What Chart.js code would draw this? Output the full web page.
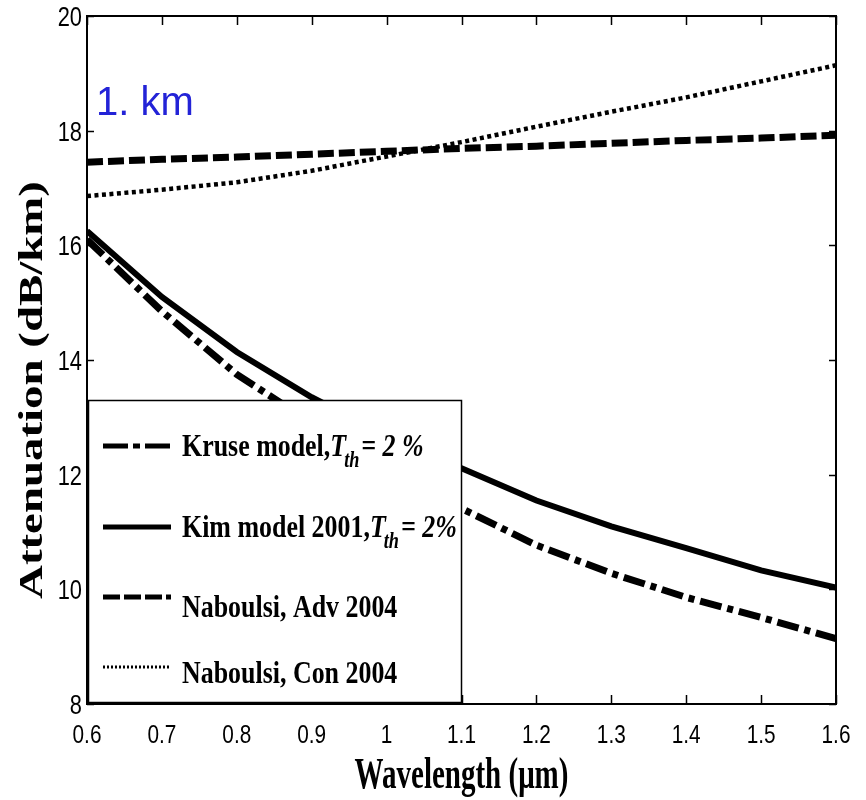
<!DOCTYPE html>
<html>
<head>
<meta charset="utf-8">
<script src="https://cdn.jsdelivr.net/npm/chart.js@4"></script>
<style>
  html, body { margin: 0; padding: 0; background: #fff; }
  #wrap { width: 866px; height: 800px; }
</style>
</head>
<body>
<div id="wrap"><canvas id="attChart" width="866" height="800"></canvas></div>
<script>
// wavelength in um
const wavelength = [0.6, 0.7, 0.8, 0.9, 1.0, 1.1, 1.2, 1.3, 1.4, 1.5, 1.6];

// attenuation in dB/km
const kruse = [16.1, 14.85, 13.75, 12.9, 12.1, 11.41, 10.77, 10.28, 9.86, 9.51, 9.14];
const kim = [16.25, 15.1, 14.14, 13.35, 12.68, 12.11, 11.55, 11.1, 10.72, 10.33, 10.03];
const naboulsiAdv = [17.45, 17.5, 17.54, 17.59, 17.64, 17.69, 17.73, 17.78, 17.83, 17.87, 17.92];
const naboulsiCon = [16.86, 16.97, 17.1, 17.3, 17.55, 17.8, 18.07, 18.33, 18.58, 18.86, 19.14];

const xTicks = [0.6, 0.7, 0.8, 0.9, 1, 1.1, 1.2, 1.3, 1.4, 1.5, 1.6];
const yTicks = [8, 10, 12, 14, 16, 18, 20];

const serif = "'Liberation Serif', 'Times New Roman', serif";
const sans = "'Liberation Sans', Arial, sans-serif";

const pts = (ys) => wavelength.map((x, i) => ({ x: x, y: ys[i] }));

// legend rows: text pieces, 0 plain bold, 1 italic, 2 italic subscript
const legendRows = [
    { ds: 0, y: 446, base: 456, parts: [['Kruse model,', 0], ['T', 1], ['th', 2], ['= 2 %', 1]] },
    { ds: 1, y: 527, base: 537, parts: [['Kim model 2001,', 0], ['T', 1], ['th', 2], ['= 2%', 1]] },
    { ds: 2, y: 597, base: 617, parts: [['Naboulsi, Adv 2004', 0]] },
    { ds: 3, y: 667, base: 683, parts: [['Naboulsi, Con 2004', 0]] },
];

function stretchedText(ctx, txt, x, y, font, sx, sy) {
    ctx.save();
    ctx.translate(x, y);
    ctx.scale(sx, sy);
    ctx.font = font;
    ctx.fillText(txt, 0, 0);
    const w = ctx.measureText(txt).width * sx;
    ctx.restore();
    return w;
}

const decorPlugin = {
    id: 'decor',
    afterDatasetsDraw(chart) {
        const ctx = chart.ctx;
        const xs = chart.scales.x, ys = chart.scales.y;
        const a = chart.chartArea;
        ctx.save();
        ctx.strokeStyle = '#000';
        ctx.lineWidth = 1.5;
        // inward ticks on all four sides
        xTicks.forEach((v) => {
            const px = Math.round(xs.getPixelForValue(v)) + 0.5;
            ctx.beginPath();
            ctx.moveTo(px, a.bottom); ctx.lineTo(px, a.bottom - 9);
            ctx.moveTo(px, a.top); ctx.lineTo(px, a.top + 9);
            ctx.stroke();
        });
        yTicks.forEach((v) => {
            const py = Math.round(ys.getPixelForValue(v)) + 0.5;
            ctx.beginPath();
            ctx.moveTo(a.left, py); ctx.lineTo(a.left + 7, py);
            ctx.moveTo(a.right, py); ctx.lineTo(a.right - 7, py);
            ctx.stroke();
        });

        // legend box
        const bx = 88, by = 400, bw = 373, bh = 302;
        ctx.fillStyle = '#fff';
        ctx.fillRect(bx, by, bw, bh);
        ctx.lineWidth = 1.5;
        ctx.strokeRect(bx + 0.5, by + 0.5, bw, bh);

        legendRows.forEach((row) => {
            const ds = chart.data.datasets[row.ds];
            ctx.save();
            ctx.strokeStyle = '#000';
            ctx.lineWidth = ds.legendWidth;
            ctx.setLineDash(ds.legendDash);
            ctx.beginPath();
            ctx.moveTo(103, row.y);
            ctx.lineTo(171, row.y);
            ctx.stroke();
            ctx.restore();

            ctx.fillStyle = '#000';
            ctx.textBaseline = 'alphabetic';
            let cx = 182;
            row.parts.forEach(([t, kind]) => {
                if (kind === 0) {
                    cx += stretchedText(ctx, t, cx, row.base, 'bold 27px ' + serif, 0.96, 1.18);
                } else if (kind === 1) {
                    cx += stretchedText(ctx, t, cx, row.base, 'italic bold 27px ' + serif, 0.96, 1.18) + 1;
                } else {
                    cx += stretchedText(ctx, t, cx - 3, row.base + 11, 'italic bold 19px ' + serif, 0.96, 1.18) - 1;
                }
            });
        });
        ctx.restore();
    },
    afterDraw(chart) {
        const ctx = chart.ctx;
        const a = chart.chartArea;
        const xs = chart.scales.x, ys = chart.scales.y;
        ctx.save();
        // box round the plot
        ctx.strokeStyle = '#000';
        ctx.lineWidth = 2;
        ctx.strokeRect(a.left, a.top, a.right - a.left, a.bottom - a.top);

        // tick labels in a narrow face
        ctx.fillStyle = '#000';
        ctx.textBaseline = 'alphabetic';
        ctx.textAlign = 'center';
        xTicks.forEach((v) => {
            stretchedText(ctx, String(v), xs.getPixelForValue(v), 743, '26px ' + sans, 0.8, 1);
        });
        ctx.textAlign = 'right';
        yTicks.forEach((v) => {
            stretchedText(ctx, String(v), a.left - 5, ys.getPixelForValue(v) + 10, '28px ' + sans, 0.78, 1);
        });

        // axis titles
        ctx.textAlign = 'center';
        stretchedText(ctx, 'Wavelength (\u03bcm)', (a.left + a.right) / 2, 788, 'bold 29px ' + serif, 1, 1.5);

        ctx.save();
        ctx.translate(42, 390);
        ctx.rotate(-Math.PI / 2);
        ctx.scale(1.42, 1);
        ctx.font = 'bold 33px ' + serif;
        ctx.fillText('Attenuation (dB/km)', 0, 0);
        ctx.restore();

        // distance label
        ctx.textAlign = 'left';
        ctx.fillStyle = '#2323d7';
        ctx.font = '40px ' + sans;
        ctx.fillText('1. km', 96, 115);
        ctx.restore();
    },
};

const ctx = document.getElementById('attChart').getContext('2d');

const chart = new Chart(ctx, {
    type: 'line',
    data: {
        datasets: [
            {
                label: 'Kruse model',
                data: pts(kruse),
                borderColor: '#000',
                borderWidth: 7,
                borderDash: [22, 6, 6, 6],
                legendWidth: 5,
                legendDash: [25, 5, 7, 5],
            },
            {
                label: 'Kim model 2001',
                data: pts(kim),
                borderColor: '#000',
                borderWidth: 6,
                borderDash: [],
                legendWidth: 5,
                legendDash: [],
            },
            {
                label: 'Naboulsi, Adv 2004',
                data: pts(naboulsiAdv),
                borderColor: '#000',
                borderWidth: 7,
                borderDash: [16, 5],
                legendWidth: 5,
                legendDash: [17, 4],
            },
            {
                label: 'Naboulsi, Con 2004',
                data: pts(naboulsiCon),
                borderColor: '#000',
                borderWidth: 4.5,
                borderDash: [4, 3.5],
                legendWidth: 3,
                legendDash: [2, 2],
            },
        ],
    },
    options: {
        responsive: false,
        animation: false,
        layout: { padding: { top: 16, right: 30, left: 0, bottom: 0 } },
        elements: {
            point: { radius: 0 },
            line: { tension: 0, fill: false, borderCapStyle: 'butt' },
        },
        plugins: {
            legend: { display: false },
            tooltip: { enabled: false },
        },
        scales: {
            x: {
                type: 'linear',
                min: 0.6,
                max: 1.6,
                afterFit: (s) => { s.height = 96; s.paddingLeft = 0; s.paddingRight = 0; },
                afterBuildTicks: (s) => { s.ticks = xTicks.map((v) => ({ value: v })); },
                grid: { display: false, drawTicks: false },
                border: { display: false },
                ticks: { display: false },
            },
            y: {
                min: 8,
                max: 20,
                afterFit: (s) => { s.width = 87; s.paddingTop = 0; s.paddingBottom = 0; },
                afterBuildTicks: (s) => { s.ticks = yTicks.map((v) => ({ value: v })); },
                grid: { display: false, drawTicks: false },
                border: { display: false },
                ticks: { display: false },
            },
        },
    },
    plugins: [decorPlugin],
});
</script>
</body>
</html>
